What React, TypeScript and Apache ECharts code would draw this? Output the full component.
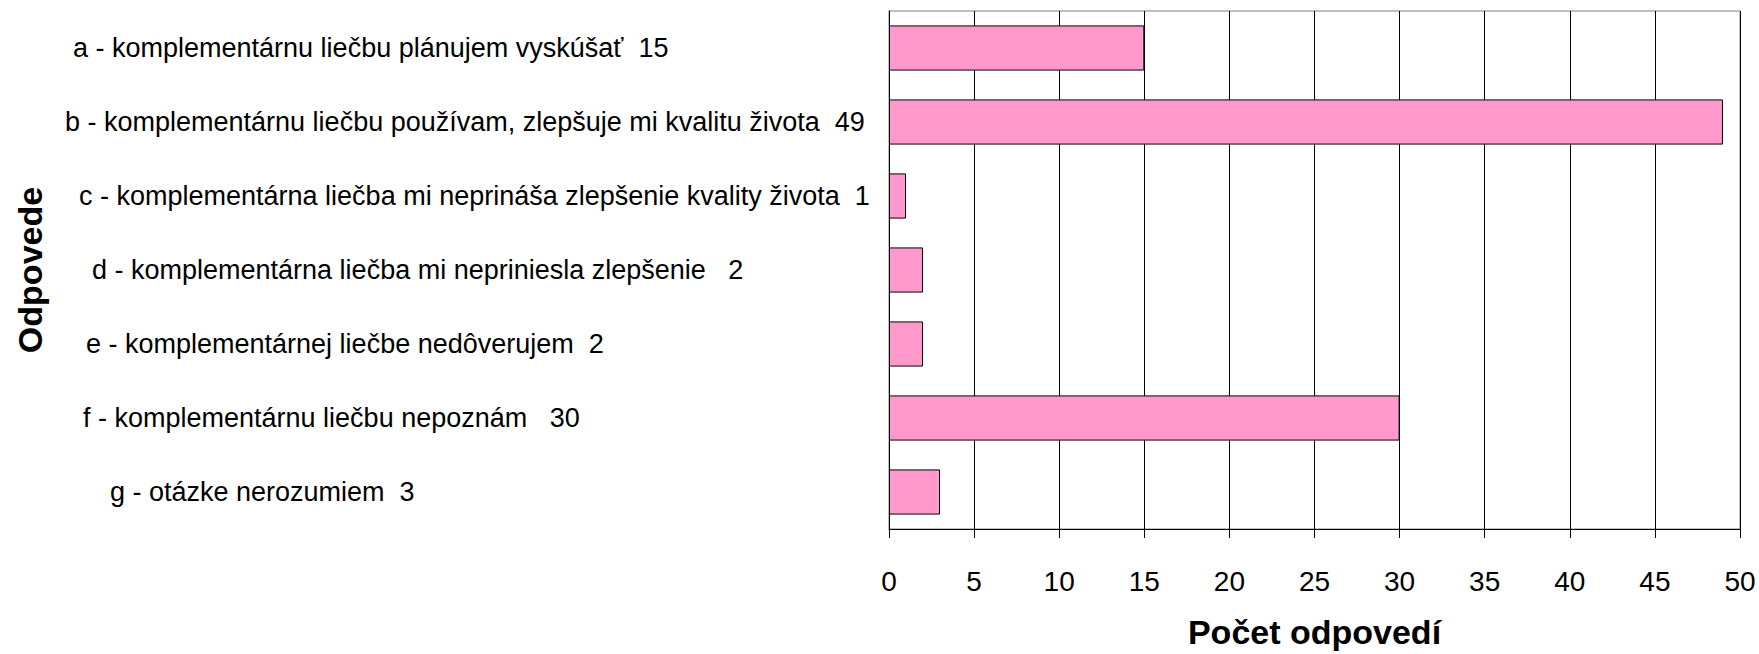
import React, { useEffect, useRef } from "react";
import * as echarts from "echarts";

const categories = [
  "a - komplementárnu liečbu plánujem vyskúšať  15",
  "b - komplementárnu liečbu používam, zlepšuje mi kvalitu života  49",
  "c - komplementárna liečba mi neprináša zlepšenie kvality života  1",
  "d - komplementárna liečba mi nepriniesla zlepšenie   2",
  "e - komplementárnej liečbe nedôverujem  2",
  "f - komplementárnu liečbu nepoznám   30",
  "g - otázke nerozumiem  3",
];
const counts = [15, 49, 1, 2, 2, 30, 3];
const xMin = 0;
const xMax = 50;
const xInterval = 5;
const xTitle = "Počet odpovedí";
const yTitle = "Odpovede";

// per-label left indents (layout only)
const labelIndents = [8, 0, 14, 27, 21, 18, 45];

const FONT = "'Liberation Sans', Arial, sans-serif";

export default function App() {
  const ref = useRef<HTMLDivElement>(null);
  useEffect(() => {
    document.body.style.margin = "0";
    const chart = echarts.init(ref.current!, null, { renderer: "svg" });
    const rich: Record<string, any> = {};
    labelIndents.forEach((p, i) => {
      rich["l" + i] = {
        padding: [0, 0, 0, p],
        fontSize: 27,
        fontFamily: FONT,
        color: "#000",
      };
    });
    chart.setOption({
      animation: false,
      backgroundColor: "#fff",
      textStyle: { fontFamily: FONT },
      grid: {
        left: 889,
        top: 11,
        width: 851,
        height: 530,
        show: true,
        borderColor: "#808080",
        borderWidth: 1,
        backgroundColor: "transparent",
      },
      xAxis: {
        type: "value",
        min: xMin,
        max: xMax,
        interval: xInterval,
        name: xTitle,
        nameLocation: "middle",
        nameGap: 86,
        nameTextStyle: {
          fontSize: 34,
          fontWeight: "bold",
          fontFamily: FONT,
          color: "#000",
        },
        axisLine: { show: true, lineStyle: { color: "#000", width: 1 } },
        axisTick: { show: true, length: 9, lineStyle: { color: "#000" } },
        axisLabel: {
          fontSize: 28,
          fontFamily: FONT,
          color: "#000",
          margin: 38,
        },
        splitLine: { show: true, lineStyle: { color: "#000", width: 1 } },
      },
      yAxis: {
        type: "category",
        data: categories,
        inverse: true,
        name: yTitle,
        nameLocation: "middle",
        nameRotate: 90,
        nameGap: 842,
        nameTextStyle: {
          fontSize: 34,
          fontWeight: "bold",
          fontFamily: FONT,
          color: "#000",
        },
        axisLine: { show: true, lineStyle: { color: "#000", width: 1 } },
        axisTick: { show: false },
        splitLine: { show: false },
        axisLabel: {
          align: "left",
          margin: 824,
          formatter: (v: string, i: number) => `{l${i}|${v}}`,
          rich,
        },
      },
      series: [
        {
          type: "bar",
          data: counts,
          barCategoryGap: "39%",
          itemStyle: { color: "#FF99CC", borderColor: "#000", borderWidth: 1 },
        },
      ],
    });
    return () => chart.dispose();
  }, []);
  return <div ref={ref} style={{ width: 1759, height: 654 }} />;
}
